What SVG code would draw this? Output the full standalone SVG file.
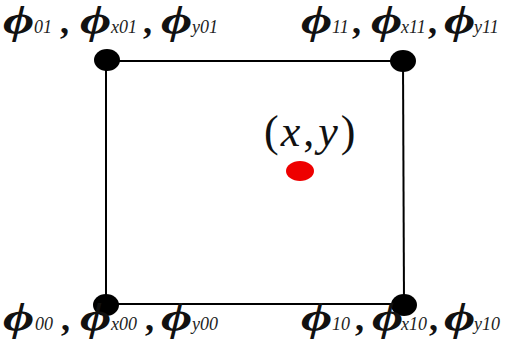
<svg xmlns="http://www.w3.org/2000/svg" width="521" height="363" viewBox="0 0 521 363">
<style>
text{font-family:"Liberation Serif","Times New Roman","DejaVu Serif",serif;fill:#111}
.phi{font-size:40px;font-style:italic;font-weight:bold}
.sub{font-size:18px;font-style:italic;fill:#222}
.cm{font-size:36px;font-weight:bold}
.xy{font-size:44px}
.dot{fill:#000}
</style>
<defs><text id="ph" class="phi" transform="scale(1.35,1)">ϕ</text></defs>
<rect width="521" height="363" fill="#fff"/>
<g id="connectors" stroke="#000" stroke-width="2" fill="none">
<line x1="106" y1="61" x2="403" y2="61"/>
<line x1="106" y1="304" x2="404" y2="304"/>
<line x1="106" y1="61" x2="106" y2="304"/>
<line x1="403" y1="61" x2="404" y2="304"/>
</g>
<g id="n01"><ellipse class="dot" cx="107" cy="60" rx="13" ry="11"/>
<use href="#ph" x="3" y="33"/><use href="#ph" x="80" y="33"/><use href="#ph" x="161" y="33"/>
<text y="33"><tspan class="sub" x="34">01</tspan><tspan class="cm" x="60">,</tspan><tspan class="sub" x="111">x01</tspan><tspan class="cm" x="143">,</tspan><tspan class="sub" x="192">y01</tspan></text></g>
<g id="n11"><ellipse class="dot" cx="403" cy="61" rx="13" ry="11"/>
<use href="#ph" x="301" y="33"/><use href="#ph" x="371" y="33"/><use href="#ph" x="444" y="33"/>
<text y="33"><tspan class="sub" x="332">11</tspan><tspan class="cm" x="352">,</tspan><tspan class="sub" x="401">x11</tspan><tspan class="cm" x="428">,</tspan><tspan class="sub" x="474">y11</tspan></text></g>
<g id="n00"><ellipse class="dot" cx="106" cy="305" rx="13" ry="11"/>
<use href="#ph" x="3" y="330"/><use href="#ph" x="80" y="330"/><use href="#ph" x="161" y="330"/>
<text y="330"><tspan class="sub" x="35">00</tspan><tspan class="cm" x="61">,</tspan><tspan class="sub" x="111">x00</tspan><tspan class="cm" x="145">,</tspan><tspan class="sub" x="192">y00</tspan></text></g>
<g id="n10"><ellipse class="dot" cx="404" cy="305" rx="13" ry="11"/>
<use href="#ph" x="301" y="330"/><use href="#ph" x="372" y="330"/><use href="#ph" x="444" y="330"/>
<text y="330"><tspan class="sub" x="332">10</tspan><tspan class="cm" x="355">,</tspan><tspan class="sub" x="401">x10</tspan><tspan class="cm" x="429">,</tspan><tspan class="sub" x="474">y10</tspan></text></g>
<g id="p"><ellipse cx="300" cy="171" rx="14" ry="10" fill="#ee0000"/>
<text class="xy" x="264" y="146">(<tspan font-style="italic" dx="2">x</tspan><tspan dx="3">,</tspan><tspan font-style="italic" dx="4">y</tspan><tspan dx="3">)</tspan></text></g>
</svg>
